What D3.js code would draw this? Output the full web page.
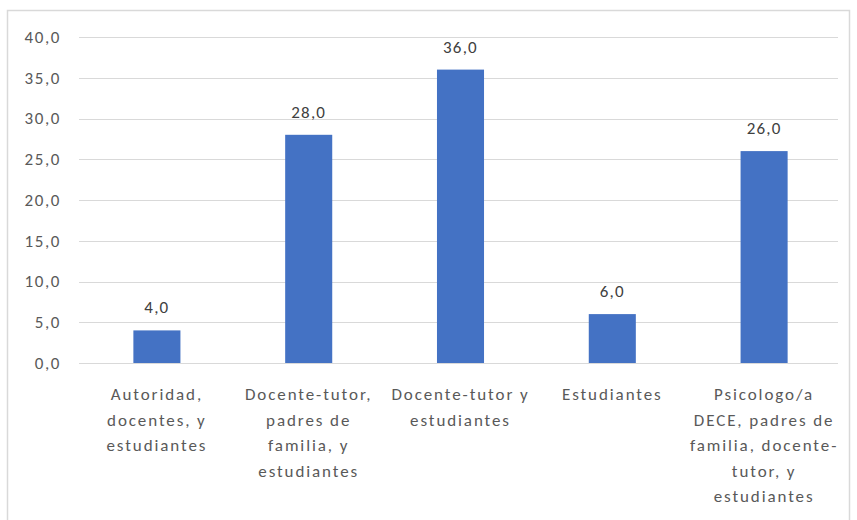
<!DOCTYPE html>
<html>
<head>
<meta charset="utf-8">
<script src="https://cdn.jsdelivr.net/npm/d3@7"></script>
<style>
  body { margin: 0; background: #fff; }
  svg { font-family: Carlito, Calibri, "Open Sans", sans-serif; }
</style>
</head>
<body>
<div id="chart"></div>
<script>
const categories = [
  'Autoridad,\ndocentes, y\nestudiantes',
  'Docente-tutor,\npadres de\nfamilia, y\nestudiantes',
  'Docente-tutor y\nestudiantes',
  'Estudiantes',
  'Psicologo/a\nDECE, padres de\nfamilia, docente-\ntutor, y\nestudiantes'
];
const values = [4, 28, 36, 6, 26];
const yTicks = [0, 5, 10, 15, 20, 25, 30, 35, 40];

const width = 857, height = 520;
const margin = { top: 37, right: 19, bottom: 157, left: 79 };

const svg = d3.select('#chart').append('svg')
  .attr('width', width).attr('height', height);

// outer chart border
svg.append('rect')
  .attr('x', 7.5).attr('y', 10.5)
  .attr('width', 842).attr('height', 520)
  .attr('fill', 'none').attr('stroke', '#d9d9d9').attr('stroke-width', 1.5);

const x = d3.scaleBand()
  .domain(d3.range(categories.length))
  .range([margin.left + 2, width - margin.right + 2])
  .paddingInner(0.69).paddingOuter(0.345);

const y = d3.scaleLinear()
  .domain([0, 40])
  .range([height - margin.bottom, margin.top]);

const fmt = v => d3.format('.1f')(v).replace('.', ',');

// gridlines
svg.append('g').selectAll('line').data(yTicks).join('line')
  .attr('x1', margin.left).attr('x2', width - margin.right)
  .attr('y1', d => Math.round(y(d)) + 0.5).attr('y2', d => Math.round(y(d)) + 0.5)
  .attr('stroke', '#d9d9d9').attr('stroke-width', 1.2);

// y tick labels
svg.append('g').selectAll('text').data(yTicks).join('text')
  .attr('x', 61).attr('y', d => y(d))
  .attr('dy', '0.35em').attr('text-anchor', 'end')
  .attr('fill', '#595959').attr('font-size', 17).attr('letter-spacing', 1.6)
  .text(fmt);

// bars
svg.append('g').selectAll('rect').data(values).join('rect')
  .attr('x', (d, i) => x(i)).attr('width', x.bandwidth())
  .attr('y', d => y(d)).attr('height', d => y(0) - y(d))
  .attr('fill', '#4472c4');

// value labels
svg.append('g').selectAll('text').data(values).join('text')
  .attr('x', (d, i) => x(i) + x.bandwidth() / 2)
  .attr('y', d => y(d) - 17)
  .attr('text-anchor', 'middle')
  .attr('fill', '#404040').attr('font-size', 17).attr('letter-spacing', 1.2)
  .text(fmt);

// category labels
const cat = svg.append('g').selectAll('text').data(categories).join('text')
  .attr('text-anchor', 'middle')
  .attr('fill', '#595959').attr('font-size', 17).attr('letter-spacing', 1.9);
cat.each(function(d, i) {
  d3.select(this).selectAll('tspan').data(d.split('\n')).join('tspan')
    .attr('x', x(i) + x.bandwidth() / 2)
    .attr('y', (t, j) => 400 + j * 25.5)
    .text(t => t);
});
</script>
</body>
</html>
